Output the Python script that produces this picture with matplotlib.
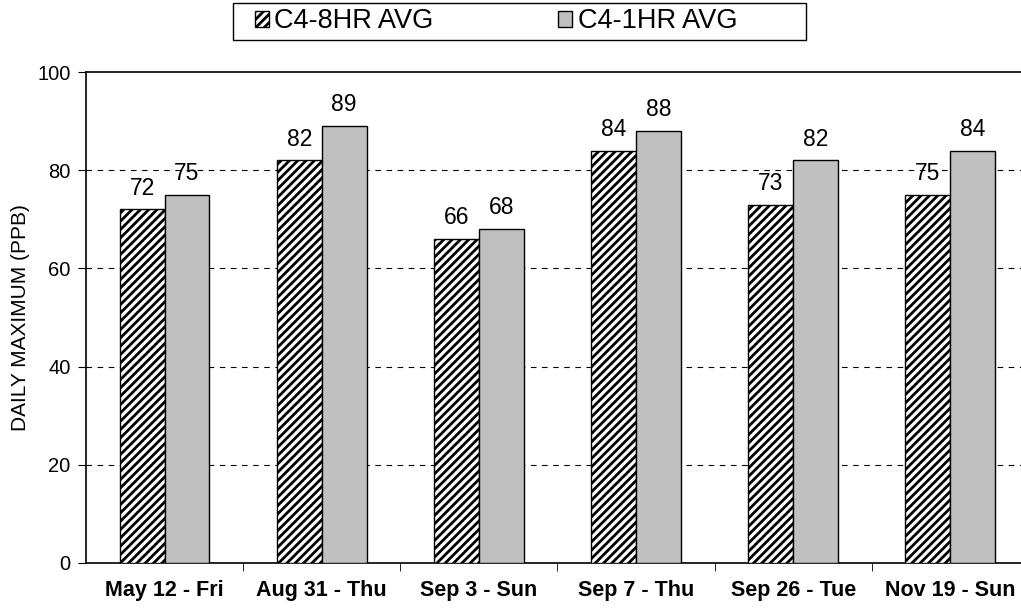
import matplotlib.pyplot as plt
from matplotlib.patches import Rectangle
import numpy as np

plt.rcParams['font.family'] = ['Liberation Sans', 'DejaVu Sans']
plt.rcParams['hatch.linewidth'] = 2.0

days = ['May 12 - Fri', 'Aug 31 - Thu', 'Sep 3 - Sun', 'Sep 7 - Thu', 'Sep 26 - Tue', 'Nov 19 - Sun']
avg8 = [72, 82, 66, 84, 73, 75]
avg1 = [75, 89, 68, 88, 82, 84]

x = np.arange(len(days))
w = 0.285

W, H = 1021, 613
fig = plt.figure(figsize=(W / 100, H / 100), dpi=100)
ax = fig.add_axes([86 / W, 1 - 563 / H, 1 - 86 / W, (563 - 72) / H])

b1 = ax.bar(x - w / 2, avg8, w, facecolor='white', edgecolor='black', hatch='////',
            linewidth=1.0, label='C4-8HR AVG', zorder=3)
b2 = ax.bar(x + w / 2, avg1, w, facecolor='#c0c0c0', edgecolor='black',
            linewidth=1.0, label='C4-1HR AVG', zorder=3)

# value labels above each bar
for xs, vals in [(x - w / 2, avg8), (x + w / 2, avg1)]:
    for xi, v in zip(xs, vals):
        ax.text(xi, v + 2.0, str(v), ha='center', va='bottom', fontsize=16.5)

ax.set_ylim(0, 100)
ax.set_xlim(-0.5, 5.45)
ax.set_yticks([0, 20, 40, 60, 80, 100])
ax.tick_params(axis='y', labelsize=14.5, length=6, pad=5, direction='out')
for yv in [20, 40, 60, 80]:
    ax.axhline(yv, color='black', linestyle=(0, (5, 5)), linewidth=0.8, zorder=1)

ax.set_xticks(x)
ax.set_xticklabels(days, fontsize=15.5, fontweight='bold')
ax.tick_params(axis='x', which='major', length=0, pad=12)
ax.set_xticks(np.arange(0.5, 5.5, 1), minor=True)
ax.tick_params(axis='x', which='minor', length=6)

ax.set_ylabel('DAILY MAXIMUM (PPB)', fontsize=15, labelpad=5)
ax.spines['right'].set_visible(False)
for s in ['left', 'bottom', 'top']:
    ax.spines[s].set_linewidth(1.2)

# legend box drawn separately so its size can be set freely
fig.patches.append(Rectangle((233 / W, 1 - 40 / H), (806 - 233) / W, 37 / H,
                             transform=fig.transFigure, facecolor='white',
                             edgecolor='black', linewidth=1.0))
fig.legend(handles=[b1, b2], loc='center left', bbox_to_anchor=(255 / W, 1 - 21.5 / H), ncol=2,
           fontsize=19.5, frameon=False, columnspacing=4.6, borderaxespad=0,
           handlelength=0.5, handleheight=0.5, handletextpad=0.22, borderpad=0)

fig.savefig('out.png', dpi=100)
